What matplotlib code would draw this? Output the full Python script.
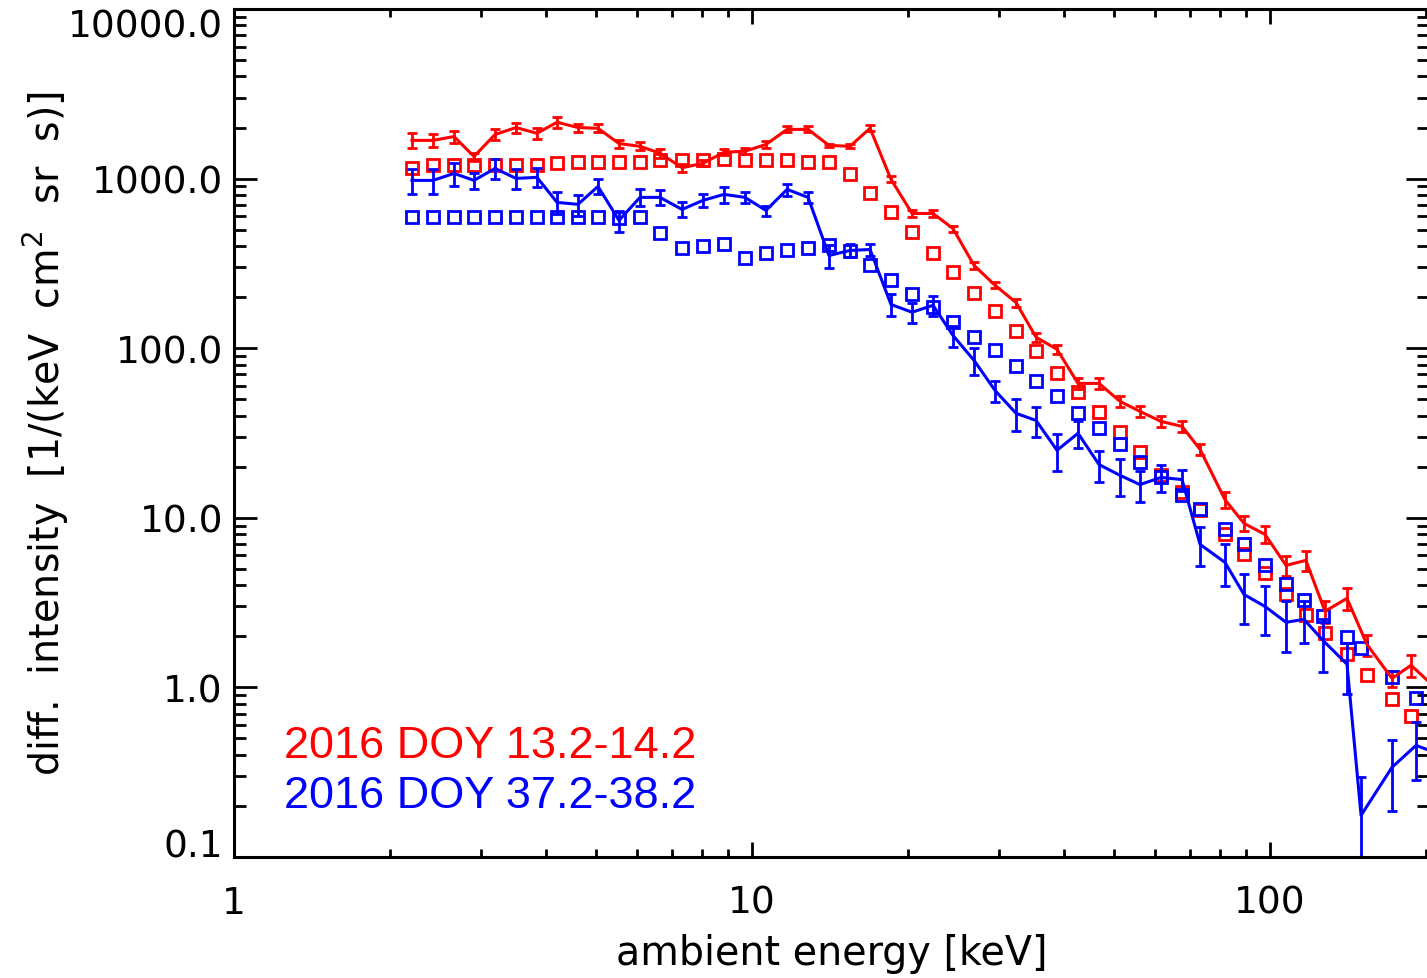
import numpy as np
import matplotlib
matplotlib.use('Agg')
import matplotlib.pyplot as plt

# energies [keV]
e_red = [2.206, 2.422, 2.659, 2.906, 3.191, 3.503, 3.845, 4.204, 4.614, 5.043,
         5.536, 6.079, 6.644, 7.326, 8.042, 8.828, 9.693, 10.64, 11.69, 12.83,
         14.08, 15.46, 16.90, 18.55, 20.37, 22.36, 24.43, 26.83, 29.45, 32.34,
         35.35, 38.80, 42.60, 46.77, 51.33, 56.10, 61.61, 67.64, 73.28, 81.85,
         89.1, 97.8, 107.4, 117.3, 127.7, 140.8, 153.9, 172.0, 187.2, 208.2]
e_blue = e_red[:43] + [116.3, 126.6, 140.8, 149.9, 172.0, 191.4, 212.9]

# 2016 DOY 13.2-14.2
red_int = [1680, 1680, 1770, 1350, 1820, 2000, 1850, 2150, 2000, 1980,
           1610, 1550, 1410, 1160, 1230, 1430, 1450, 1590, 1950, 1950,
           1570, 1550, 1980, 990, 623, 623, 508, 308, 235, 186,
           116, 98.4, 62.0, 62.0, 48.6, 42.4, 37.0, 34.6, 25.3, 12.8,
           9.27, 7.98, 5.24, 5.61, 2.81, 3.35, 1.79, 1.13, 1.35, 1.0]
red_err = [170, 140, 150, 75, 130, 140, 130, 150, 110, 110,
           90, 85, 80, 65, 50, 60, 60, 65, 80, 80,
           40, 40, 80, 40, 26, 26, 21, 13, 10, 10,
           6.5, 5.5, 4.3, 4.3, 3.4, 3.0, 2.6, 2.4, 1.8, 1.3,
           0.92, 0.92, 0.68, 0.73, 0.41, 0.49, 0.26, 0.12, 0.2, 0.15]
red_sq = [1160, 1200, 1200, 1200, 1210, 1210, 1210, 1230, 1250, 1250,
          1250, 1260, 1280, 1280, 1280, 1300, 1280, 1280, 1280, 1250,
          1250, 1060, 818, 632, 482, 362, 280, 213, 165, 127,
          95.7, 71.0, 54.9, 41.8, 31.9, 24.3, 18.0, 14.1, 11.1, 7.98,
          6.08, 4.70, 3.53, 2.69, 2.08, 1.57, 1.19, 0.850, 0.675]

# 2016 DOY 37.2-38.2
blue_int = [976, 976, 1073, 976, 1148, 1003, 1017, 724, 705, 899,
            567, 775, 775, 658, 744, 807, 775, 649, 864, 775,
            352, 377, 382, 181, 163, 179, 119, 84.8, 56.4, 41.3,
            37.5, 25.0, 31.5, 20.6, 17.8, 15.7, 17.3, 16.8, 6.97, 5.46,
            3.53, 3.00, 2.42, 2.52, 1.89, 1.37, 0.176, 0.338, 0.455, 0.403]
blue_err = [160, 160, 170, 110, 150, 130, 130, 105, 100, 90,
            80, 90, 80, 66, 63, 90, 55, 45, 70, 55,
            55, 32, 30, 27, 22, 25, 17, 15, 8, 9,
            7.5, 6, 5.6, 4.3, 4.3, 3.3, 3.1, 2.4, 1.8, 1.5,
            1.15, 0.95, 0.8, 0.7, 0.65, 0.45, 0.12, 0.15, 0.17, 0.15]
blue_sq = [590, 590, 590, 590, 590, 590, 590, 590, 590, 590,
           585, 595, 475, 388, 398, 409, 338, 362, 377, 388,
           404, 372, 308, 254, 208, 174, 142, 117, 97.1, 78.1,
           63.7, 52.0, 41.3, 33.7, 27.1, 21.2, 17.3, 13.6, 11.2, 8.54,
           6.97, 5.24, 4.05, 3.26, 2.62, 1.97, 1.70, 1.15, 0.861]

labels = ["2016 DOY 13.2-14.2", "2016 DOY 37.2-38.2"]

#%% plot
W, H = 1427, 979
fig = plt.figure(figsize=(W / 100, H / 100), dpi=100)
ax = fig.add_axes([234 / W, (H - 858) / H, (1429 - 234) / W, (858 - 10) / H])

lw = 2.2
ax.errorbar(e_red, red_int, yerr=red_err, color='red', lw=lw, capsize=3.3,
            capthick=2, elinewidth=2)
ax.plot(e_red[:len(red_sq)], red_sq, 's', mfc='none', mec='red', ms=9, mew=2)
ax.errorbar(e_blue, blue_int, yerr=blue_err, color='blue', lw=lw, capsize=3.3,
            capthick=2, elinewidth=2)
ax.plot(e_blue[:len(blue_sq)], blue_sq, 's', mfc='none', mec='blue', ms=9, mew=2)

ax.set_xscale('log')
ax.set_yscale('log')
ax.set_xlim(1, 10 ** ((1429 - 234) / 518))
ax.set_ylim(0.1, 10000)

ax.set_yticks([0.1, 1, 10, 100, 1000, 10000])
ax.set_yticklabels(["0.1", "1.0", "10.0", "100.0", "1000.0", "10000.0"])
ax.set_xticks([1, 10, 100])
ax.set_xticklabels(["1", "10", "100"])

for s in ax.spines.values():
    s.set_linewidth(2.2)
ax.tick_params(axis='both', which='both', direction='in', width=2,
               top=True, right=True, labelsize=27)
ax.tick_params(axis='y', which='major', length=16.5, pad=8)
ax.tick_params(axis='y', which='minor', length=8.6)
ax.tick_params(axis='x', which='major', length=10.8, pad=20)
ax.tick_params(axis='x', which='minor', length=5.8)

# keep end labels inside the axis range, like the original
ylabs = ax.get_yticklabels()
ylabs[0].set_va('baseline')
ylabs[-1].set_va('top')

ax.set_xlabel("ambient energy [keV]", fontsize=28.5, labelpad=9)
ax.set_ylabel("diff.  intensity  [1/(keV  cm$^2$  sr  s)]", fontsize=28.5,
              labelpad=-2)

fig.text(284 / W, (H - 758) / H, labels[0], color='red', fontsize=32.5,
         family='Liberation Sans', va='baseline')
fig.text(284 / W, (H - 808) / H, labels[1], color='blue', fontsize=32.5,
         family='Liberation Sans', va='baseline')

fig.savefig('out.png', dpi=100)
